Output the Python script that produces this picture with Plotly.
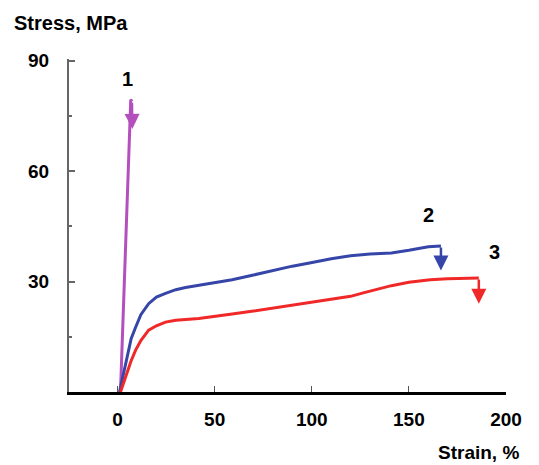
import plotly.graph_objects as go

# ---- data ----
strain_1 = [1.5, 2.8, 4.0, 5.2, 6.0, 6.5, 6.8, 7.4]
stress_1 = [0, 20, 40, 60, 72, 78, 79.5, 79.0]
arrow_1 = (7.6, 71.5)

strain_2 = [1, 3, 5, 7, 9.3, 12, 16, 20, 24.7, 30, 35, 41.8, 50, 59, 70, 80, 90,
            99.5, 110, 120, 130, 141, 150, 160, 166.5]
stress_2 = [0, 5, 10, 14.5, 17.6, 21, 24, 25.8, 26.8, 27.8, 28.4, 29, 29.8, 30.5,
            31.8, 33, 34.2, 35.1, 36.2, 37, 37.5, 37.8, 38.5, 39.5, 39.7]
arrow_2 = (166.5, 33)

strain_3 = [1.5, 3, 5.5, 7, 9.3, 12, 16, 20, 24.7, 30, 41.8, 50, 59, 70, 80, 90,
            99.5, 110, 120, 127, 135, 141, 150, 161, 170, 180, 186]
stress_3 = [0, 2.5, 6, 8.5, 11.4, 14, 16.8, 18, 19, 19.5, 20, 20.5, 21.2, 22, 22.8,
            23.6, 24.3, 25.2, 26, 27, 28, 28.9, 29.8, 30.5, 30.8, 31, 31]
arrow_3 = (186, 24)

labels = ["1", "2", "3"]
label_x = [5, 160, 194]
label_y = [85, 48, 38]

x_ticks = [0, 50, 100, 150, 200]
y_ticks = [30, 60, 90]

colors = ["#B44FBE", "#3646A8", "#F02828"]

FONT = "Arial, Liberation Sans, sans-serif"

fig = go.Figure()
series = [(strain_1, stress_1, arrow_1), (strain_2, stress_2, arrow_2), (strain_3, stress_3, arrow_3)]
for (sx, sy, arr), c in zip(series, colors):
    fig.add_trace(go.Scatter(x=sx, y=sy, mode="lines",
                             line=dict(color=c, width=3), showlegend=False))
    fig.add_annotation(x=arr[0], y=arr[1], ax=sx[-1], ay=sy[-1],
                       xref="x", yref="y", axref="x", ayref="y",
                       showarrow=True, arrowhead=2, arrowsize=1.2,
                       arrowwidth=2.5, arrowcolor=c, text="", standoff=0)

for t, lx, ly in zip(labels, label_x, label_y):
    fig.add_annotation(x=lx, y=ly, xref="x", yref="y", text="<b>%s</b>" % t,
                       showarrow=False, font=dict(family=FONT, size=20, color="black"))

fig.add_annotation(x=-0.130, y=1.108, xref="paper", yref="paper", xanchor="left",
                   yanchor="middle", text="<b>Stress, MPa</b>", showarrow=False,
                   font=dict(family=FONT, size=20, color="black"))
fig.add_annotation(x=1.035, y=-0.182, xref="paper", yref="paper", xanchor="right",
                   yanchor="middle", text="<b>Strain, %</b>", showarrow=False,
                   font=dict(family=FONT, size=19, color="black"))

# the page adds an 8 px body margin on left/top, so the figure is drawn 8 px smaller
fig.update_layout(
    width=531, height=457,
    margin=dict(l=61, r=33, t=51, b=73, autoexpand=False),
    plot_bgcolor="white", paper_bgcolor="white",
    font=dict(family=FONT, size=19, color="black"),
)
fig.update_xaxes(range=[-25, 200], tickvals=x_ticks,
                 ticktext=["<b>%d</b>" % v for v in x_ticks],
                 showgrid=False, zeroline=False, showline=True, automargin=False,
                 linecolor="black", linewidth=3,
                 ticks="inside", ticklen=6, tickwidth=1, tickcolor="#555",
                 ticklabelstandoff=8)
fig.update_yaxes(range=[0, 90.5], tickvals=y_ticks,
                 ticktext=["<b>%d</b>" % v for v in y_ticks],
                 showgrid=False, zeroline=False, showline=True, automargin=False,
                 linecolor="#666", linewidth=2,
                 ticks="inside", ticklen=6, tickwidth=2, tickcolor="#666",
                 minor=dict(tickvals=[15, 45, 75], ticks="inside", ticklen=3,
                            tickwidth=2, tickcolor="#666"),
                 ticklabelstandoff=14)

fig.write_html("out.html")
